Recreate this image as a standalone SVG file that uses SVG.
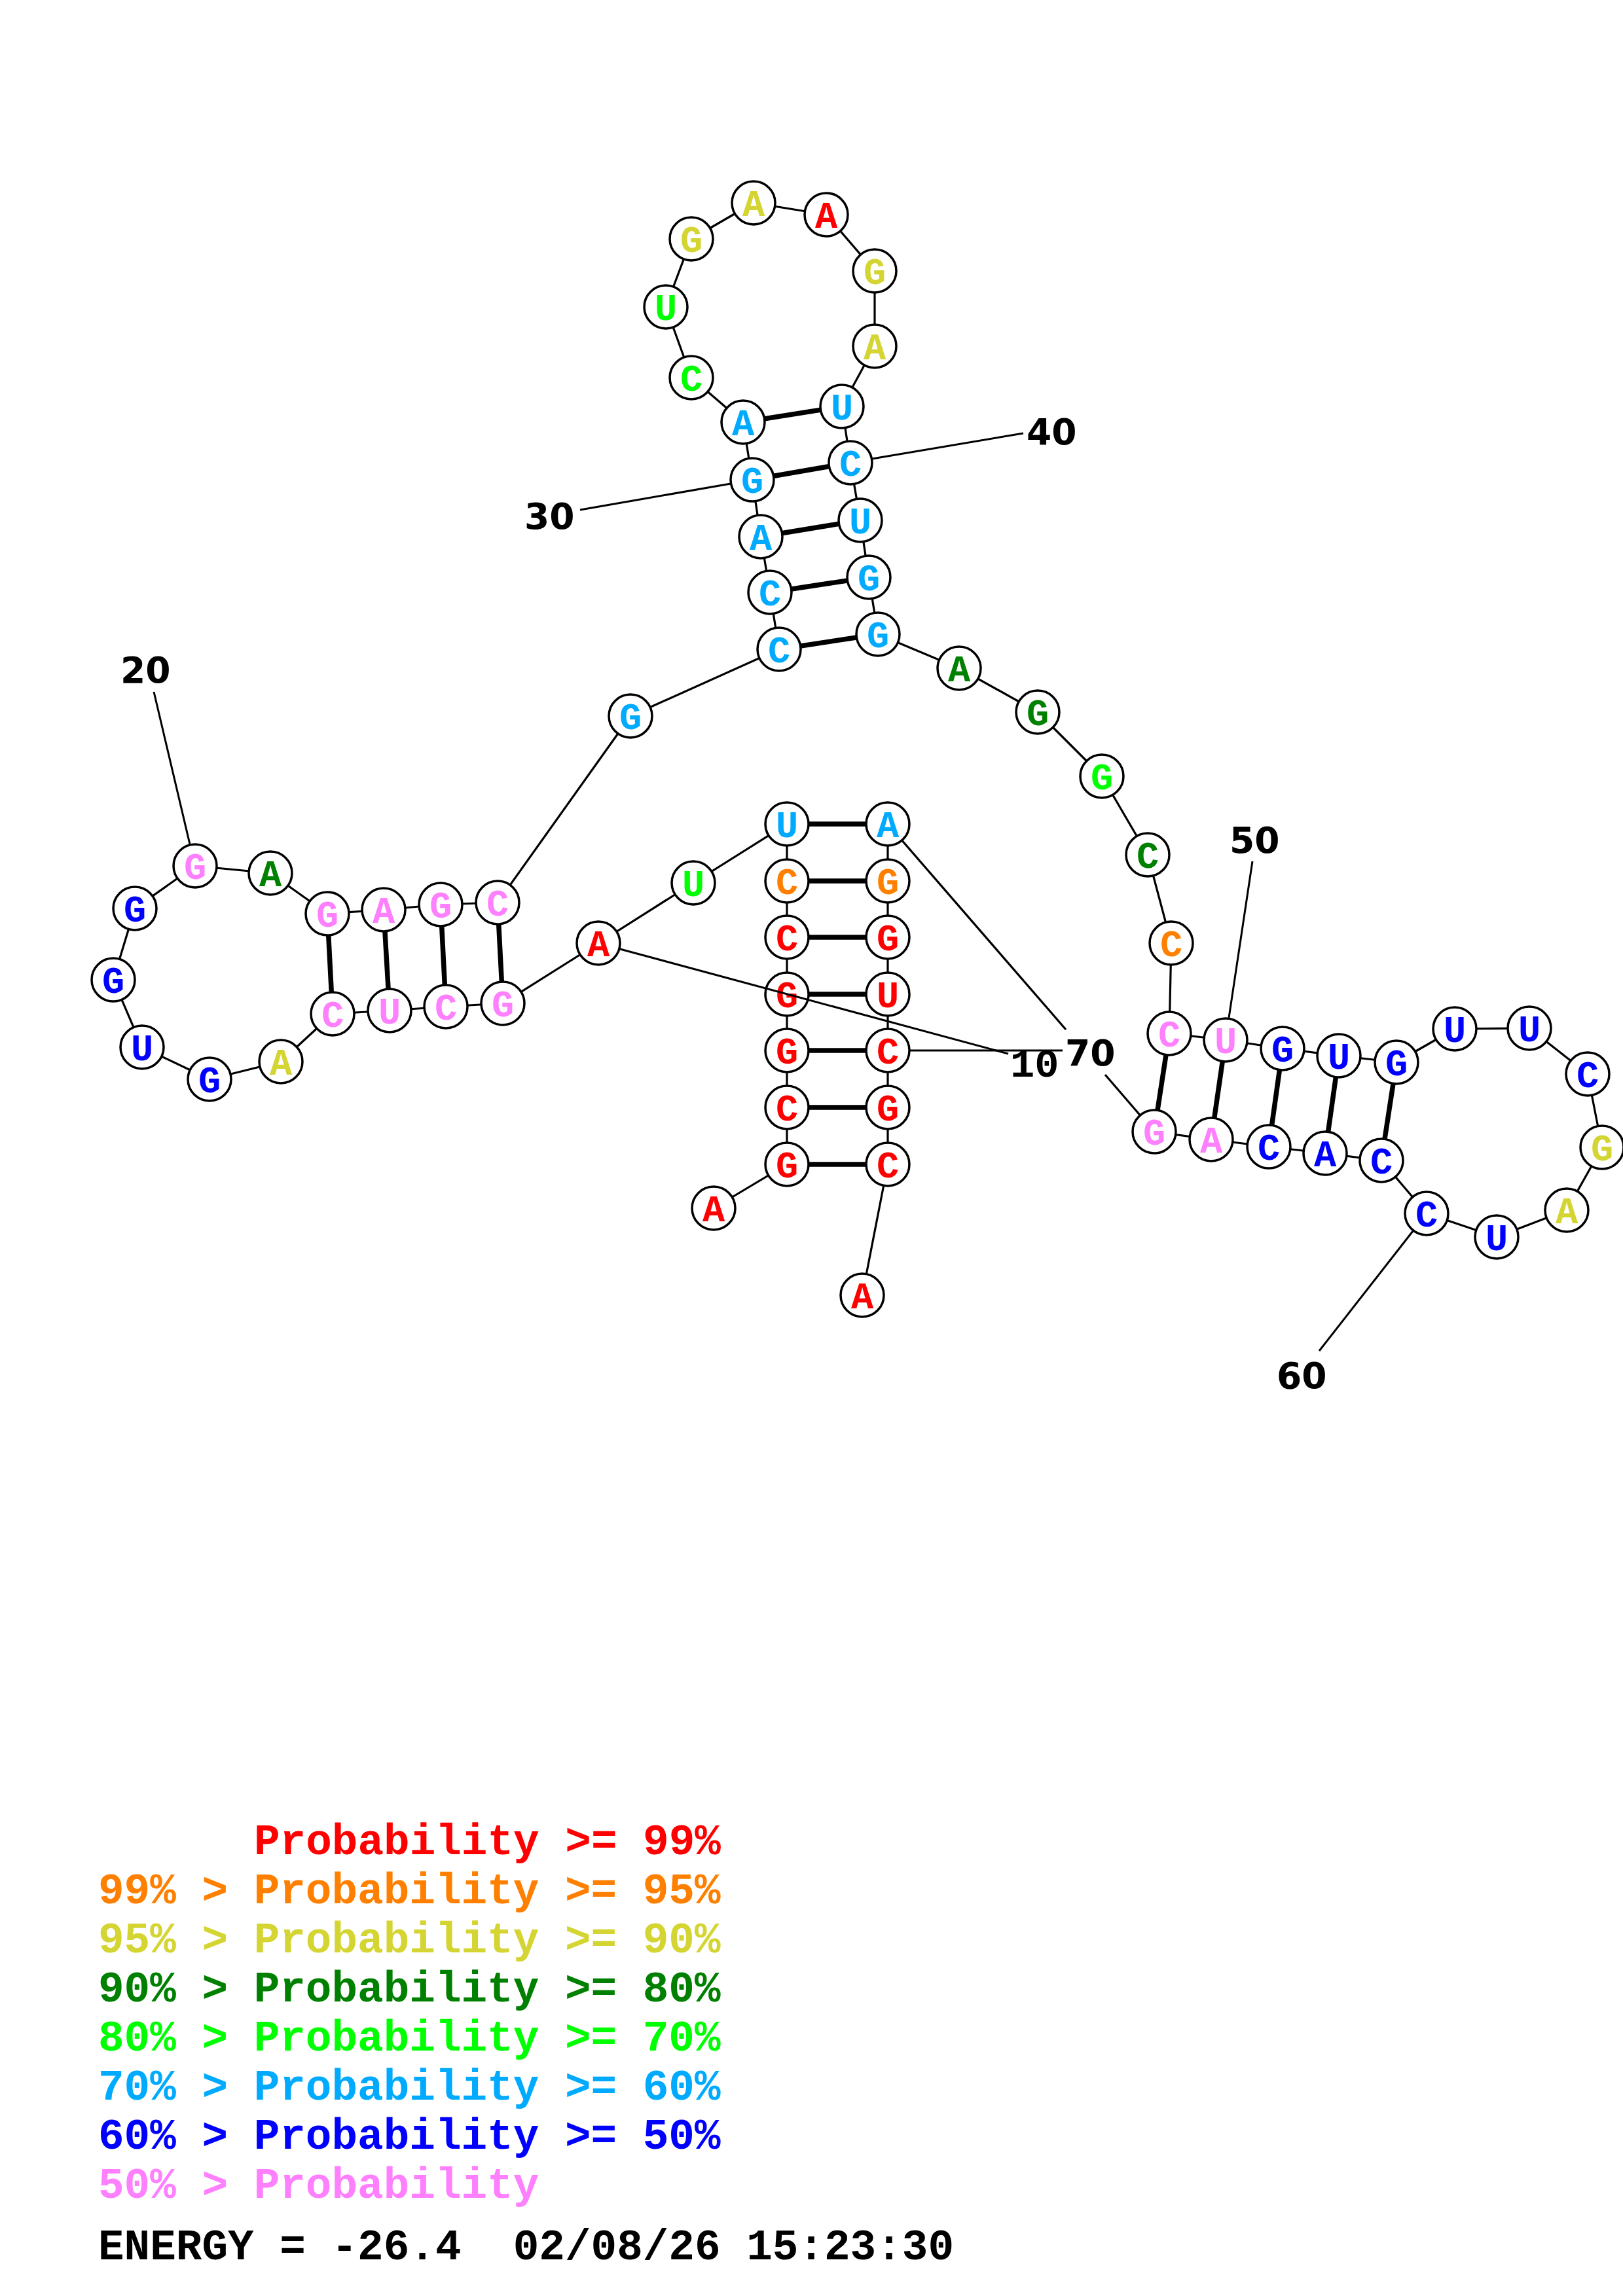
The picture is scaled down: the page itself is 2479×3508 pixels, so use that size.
<svg xmlns="http://www.w3.org/2000/svg" width="2479" height="3508" viewBox="0 0 2479 3508">
<style>
.bb{fill:none;stroke:#000;stroke-width:3.2;stroke-linejoin:round}
.bp{stroke:#000;stroke-width:7.5}
.ll{stroke:#000;stroke-width:3}
.nc{fill:#fff;stroke:#000;stroke-width:3.5}
.nt{font-family:"Liberation Mono","Courier New",monospace;font-weight:bold;font-size:57px;text-anchor:middle}
.lab{font-family:"DejaVu Sans",sans-serif;font-weight:bold;font-size:55px;fill:#000}
.leg{font-family:"Liberation Mono","Courier New",monospace;font-weight:bold;font-size:66px}
.R{fill:#FF0000}.O{fill:#FF8000}.Y{fill:#D4D432}.DG{fill:#008000}.G{fill:#00FF00}.LB{fill:#00AAFF}.B{fill:#0000FF}.P{fill:#FF80FF}.K{fill:#000}
</style>
<rect width="2479" height="3508" fill="#fff"/>
<g id="connectors">
<polyline class="bb" points="1090,1846 1202,1779 1202,1692 1202,1605 1202,1519 1202,1432 1202,1346 1202,1259 1059,1349 914,1441 768,1533 681,1538 595,1544 508,1549 429,1622 320,1649 217,1600 173,1497 206,1388 298,1323 413,1334 500,1396 586,1390 673,1382 760,1379 963,1094 1190,992 1176,905 1162,820 1149,733 1135,645 1056,577 1017,469 1056,365 1151,310 1262,328 1336,414 1336,529 1286,621 1299,707 1314,795 1327,882 1341,969 1465,1021 1585,1088 1683,1186 1753,1306 1789,1441 1786,1579 1872,1589 1959,1602 2045,1613 2133,1623 2222,1572 2336,1571 2425,1641 2447,1753 2393,1849 2286,1890 2179,1854 2110,1773 2024,1762 1938,1752 1850,1741 1763,1729"/>
<line class="bb" x1="1763" y1="1729" x2="1688" y2="1642"/>
<line class="bb" x1="1628" y1="1573" x2="1356" y2="1259"/>
<polyline class="bb" points="1356,1259 1356,1346 1356,1432 1356,1519 1356,1605 1356,1692 1356,1779 1317,1979"/>
<line class="bp" x1="1202" y1="1779" x2="1356" y2="1779"/>
<line class="bp" x1="1202" y1="1692" x2="1356" y2="1692"/>
<line class="bp" x1="1202" y1="1605" x2="1356" y2="1605"/>
<line class="bp" x1="1202" y1="1519" x2="1356" y2="1519"/>
<line class="bp" x1="1202" y1="1432" x2="1356" y2="1432"/>
<line class="bp" x1="1202" y1="1346" x2="1356" y2="1346"/>
<line class="bp" x1="1202" y1="1259" x2="1356" y2="1259"/>
<line class="bp" x1="500" y1="1396" x2="508" y2="1549"/>
<line class="bp" x1="586" y1="1390" x2="595" y2="1544"/>
<line class="bp" x1="673" y1="1382" x2="681" y2="1538"/>
<line class="bp" x1="760" y1="1379" x2="768" y2="1533"/>
<line class="bp" x1="1190" y1="992" x2="1341" y2="969"/>
<line class="bp" x1="1176" y1="905" x2="1327" y2="882"/>
<line class="bp" x1="1162" y1="820" x2="1314" y2="795"/>
<line class="bp" x1="1149" y1="733" x2="1299" y2="707"/>
<line class="bp" x1="1135" y1="645" x2="1286" y2="621"/>
<line class="bp" x1="1786" y1="1579" x2="1763" y2="1729"/>
<line class="bp" x1="1872" y1="1589" x2="1850" y2="1741"/>
<line class="bp" x1="1959" y1="1602" x2="1938" y2="1752"/>
<line class="bp" x1="2045" y1="1613" x2="2024" y2="1762"/>
<line class="bp" x1="2133" y1="1623" x2="2110" y2="1773"/>
</g>
<g id="n1"><circle class="nc" cx="1090" cy="1846" r="33"/><text class="nt R" x="1090" y="1866">A</text></g>
<g id="n2"><circle class="nc" cx="1202" cy="1779" r="33"/><text class="nt R" x="1202" y="1799">G</text></g>
<g id="n3"><circle class="nc" cx="1202" cy="1692" r="33"/><text class="nt R" x="1202" y="1712">C</text></g>
<g id="n4"><circle class="nc" cx="1202" cy="1605" r="33"/><text class="nt R" x="1202" y="1625">G</text></g>
<g id="n5"><circle class="nc" cx="1202" cy="1519" r="33"/><text class="nt R" x="1202" y="1539">G</text></g>
<g id="n6"><circle class="nc" cx="1202" cy="1432" r="33"/><text class="nt R" x="1202" y="1452">C</text></g>
<g id="n7"><circle class="nc" cx="1202" cy="1346" r="33"/><text class="nt O" x="1202" y="1366">C</text></g>
<g id="n8"><circle class="nc" cx="1202" cy="1259" r="33"/><text class="nt LB" x="1202" y="1279">U</text></g>
<g id="n9"><circle class="nc" cx="1059" cy="1349" r="33"/><text class="nt G" x="1059" y="1369">U</text></g>
<g id="n10"><circle class="nc" cx="914" cy="1441" r="33"/><text class="nt R" x="914" y="1461">A</text></g>
<g id="n11"><circle class="nc" cx="768" cy="1533" r="33"/><text class="nt P" x="768" y="1553">G</text></g>
<g id="n12"><circle class="nc" cx="681" cy="1538" r="33"/><text class="nt P" x="681" y="1558">C</text></g>
<g id="n13"><circle class="nc" cx="595" cy="1544" r="33"/><text class="nt P" x="595" y="1564">U</text></g>
<g id="n14"><circle class="nc" cx="508" cy="1549" r="33"/><text class="nt P" x="508" y="1569">C</text></g>
<g id="n15"><circle class="nc" cx="429" cy="1622" r="33"/><text class="nt Y" x="429" y="1642">A</text></g>
<g id="n16"><circle class="nc" cx="320" cy="1649" r="33"/><text class="nt B" x="320" y="1669">G</text></g>
<g id="n17"><circle class="nc" cx="217" cy="1600" r="33"/><text class="nt B" x="217" y="1620">U</text></g>
<g id="n18"><circle class="nc" cx="173" cy="1497" r="33"/><text class="nt B" x="173" y="1517">G</text></g>
<g id="n19"><circle class="nc" cx="206" cy="1388" r="33"/><text class="nt B" x="206" y="1408">G</text></g>
<g id="n20"><circle class="nc" cx="298" cy="1323" r="33"/><text class="nt P" x="298" y="1343">G</text></g>
<g id="n21"><circle class="nc" cx="413" cy="1334" r="33"/><text class="nt DG" x="413" y="1354">A</text></g>
<g id="n22"><circle class="nc" cx="500" cy="1396" r="33"/><text class="nt P" x="500" y="1416">G</text></g>
<g id="n23"><circle class="nc" cx="586" cy="1390" r="33"/><text class="nt P" x="586" y="1410">A</text></g>
<g id="n24"><circle class="nc" cx="673" cy="1382" r="33"/><text class="nt P" x="673" y="1402">G</text></g>
<g id="n25"><circle class="nc" cx="760" cy="1379" r="33"/><text class="nt P" x="760" y="1399">C</text></g>
<g id="n26"><circle class="nc" cx="963" cy="1094" r="33"/><text class="nt LB" x="963" y="1114">G</text></g>
<g id="n27"><circle class="nc" cx="1190" cy="992" r="33"/><text class="nt LB" x="1190" y="1012">C</text></g>
<g id="n28"><circle class="nc" cx="1176" cy="905" r="33"/><text class="nt LB" x="1176" y="925">C</text></g>
<g id="n29"><circle class="nc" cx="1162" cy="820" r="33"/><text class="nt LB" x="1162" y="840">A</text></g>
<g id="n30"><circle class="nc" cx="1149" cy="733" r="33"/><text class="nt LB" x="1149" y="753">G</text></g>
<g id="n31"><circle class="nc" cx="1135" cy="645" r="33"/><text class="nt LB" x="1135" y="665">A</text></g>
<g id="n32"><circle class="nc" cx="1056" cy="577" r="33"/><text class="nt G" x="1056" y="597">C</text></g>
<g id="n33"><circle class="nc" cx="1017" cy="469" r="33"/><text class="nt G" x="1017" y="489">U</text></g>
<g id="n34"><circle class="nc" cx="1056" cy="365" r="33"/><text class="nt Y" x="1056" y="385">G</text></g>
<g id="n35"><circle class="nc" cx="1151" cy="310" r="33"/><text class="nt Y" x="1151" y="330">A</text></g>
<g id="n36"><circle class="nc" cx="1262" cy="328" r="33"/><text class="nt R" x="1262" y="348">A</text></g>
<g id="n37"><circle class="nc" cx="1336" cy="414" r="33"/><text class="nt Y" x="1336" y="434">G</text></g>
<g id="n38"><circle class="nc" cx="1336" cy="529" r="33"/><text class="nt Y" x="1336" y="549">A</text></g>
<g id="n39"><circle class="nc" cx="1286" cy="621" r="33"/><text class="nt LB" x="1286" y="641">U</text></g>
<g id="n40"><circle class="nc" cx="1299" cy="707" r="33"/><text class="nt LB" x="1299" y="727">C</text></g>
<g id="n41"><circle class="nc" cx="1314" cy="795" r="33"/><text class="nt LB" x="1314" y="815">U</text></g>
<g id="n42"><circle class="nc" cx="1327" cy="882" r="33"/><text class="nt LB" x="1327" y="902">G</text></g>
<g id="n43"><circle class="nc" cx="1341" cy="969" r="33"/><text class="nt LB" x="1341" y="989">G</text></g>
<g id="n44"><circle class="nc" cx="1465" cy="1021" r="33"/><text class="nt DG" x="1465" y="1041">A</text></g>
<g id="n45"><circle class="nc" cx="1585" cy="1088" r="33"/><text class="nt DG" x="1585" y="1108">G</text></g>
<g id="n46"><circle class="nc" cx="1683" cy="1186" r="33"/><text class="nt G" x="1683" y="1206">G</text></g>
<g id="n47"><circle class="nc" cx="1753" cy="1306" r="33"/><text class="nt DG" x="1753" y="1326">C</text></g>
<g id="n48"><circle class="nc" cx="1789" cy="1441" r="33"/><text class="nt O" x="1789" y="1461">C</text></g>
<g id="n49"><circle class="nc" cx="1786" cy="1579" r="33"/><text class="nt P" x="1786" y="1599">C</text></g>
<g id="n50"><circle class="nc" cx="1872" cy="1589" r="33"/><text class="nt P" x="1872" y="1609">U</text></g>
<g id="n51"><circle class="nc" cx="1959" cy="1602" r="33"/><text class="nt B" x="1959" y="1622">G</text></g>
<g id="n52"><circle class="nc" cx="2045" cy="1613" r="33"/><text class="nt B" x="2045" y="1633">U</text></g>
<g id="n53"><circle class="nc" cx="2133" cy="1623" r="33"/><text class="nt B" x="2133" y="1643">G</text></g>
<g id="n54"><circle class="nc" cx="2222" cy="1572" r="33"/><text class="nt B" x="2222" y="1592">U</text></g>
<g id="n55"><circle class="nc" cx="2336" cy="1571" r="33"/><text class="nt B" x="2336" y="1591">U</text></g>
<g id="n56"><circle class="nc" cx="2425" cy="1641" r="33"/><text class="nt B" x="2425" y="1661">C</text></g>
<g id="n57"><circle class="nc" cx="2447" cy="1753" r="33"/><text class="nt Y" x="2447" y="1773">G</text></g>
<g id="n58"><circle class="nc" cx="2393" cy="1849" r="33"/><text class="nt Y" x="2393" y="1869">A</text></g>
<g id="n59"><circle class="nc" cx="2286" cy="1890" r="33"/><text class="nt B" x="2286" y="1910">U</text></g>
<g id="n60"><circle class="nc" cx="2179" cy="1854" r="33"/><text class="nt B" x="2179" y="1874">C</text></g>
<g id="n61"><circle class="nc" cx="2110" cy="1773" r="33"/><text class="nt B" x="2110" y="1793">C</text></g>
<g id="n62"><circle class="nc" cx="2024" cy="1762" r="33"/><text class="nt B" x="2024" y="1782">A</text></g>
<g id="n63"><circle class="nc" cx="1938" cy="1752" r="33"/><text class="nt B" x="1938" y="1772">C</text></g>
<g id="n64"><circle class="nc" cx="1850" cy="1741" r="33"/><text class="nt P" x="1850" y="1761">A</text></g>
<g id="n65"><circle class="nc" cx="1763" cy="1729" r="33"/><text class="nt P" x="1763" y="1749">G</text></g>
<g id="n66"><circle class="nc" cx="1356" cy="1259" r="33"/><text class="nt LB" x="1356" y="1279">A</text></g>
<g id="n67"><circle class="nc" cx="1356" cy="1346" r="33"/><text class="nt O" x="1356" y="1366">G</text></g>
<g id="n68"><circle class="nc" cx="1356" cy="1432" r="33"/><text class="nt R" x="1356" y="1452">G</text></g>
<g id="n69"><circle class="nc" cx="1356" cy="1519" r="33"/><text class="nt R" x="1356" y="1539">U</text></g>
<g id="n70"><circle class="nc" cx="1356" cy="1605" r="33"/><text class="nt R" x="1356" y="1625">C</text></g>
<g id="n71"><circle class="nc" cx="1356" cy="1692" r="33"/><text class="nt R" x="1356" y="1712">G</text></g>
<g id="n72"><circle class="nc" cx="1356" cy="1779" r="33"/><text class="nt R" x="1356" y="1799">C</text></g>
<g id="n73"><circle class="nc" cx="1317" cy="1979" r="33"/><text class="nt R" x="1317" y="1999">A</text></g>
<g id="labels">
<line class="ll" x1="947" y1="1450" x2="1540" y2="1610"/>
<line class="ll" x1="290" y1="1290" x2="235" y2="1057"/>
<line class="ll" x1="1116" y1="739" x2="886" y2="779"/>
<line class="ll" x1="1332" y1="701" x2="1563" y2="662"/>
<line class="ll" x1="1877" y1="1555" x2="1913" y2="1316"/>
<line class="ll" x1="2158" y1="1881" x2="2015" y2="2064"/>
<line class="ll" x1="1389" y1="1605" x2="1623" y2="1605"/>
<text class="leg K" style="font-size:62px" x="1543" y="1645">10</text>
<text class="lab" x="184" y="1043">20</text>
<text class="lab" x="801" y="808">30</text>
<text class="lab" x="1568" y="679">40</text>
<text class="lab" x="1878" y="1303">50</text>
<text class="lab" x="1950" y="2121">60</text>
<text class="lab" x="1627" y="1628">70</text>
</g>
<g id="legend">
<text class="leg R" x="388" y="2833">Probability &gt;= 99%</text>
<text class="leg O" x="150" y="2908">99% &gt; Probability &gt;= 95%</text>
<text class="leg Y" x="150" y="2983">95% &gt; Probability &gt;= 90%</text>
<text class="leg DG" x="150" y="3058">90% &gt; Probability &gt;= 80%</text>
<text class="leg G" x="150" y="3133">80% &gt; Probability &gt;= 70%</text>
<text class="leg LB" x="150" y="3208">70% &gt; Probability &gt;= 60%</text>
<text class="leg B" x="150" y="3283">60% &gt; Probability &gt;= 50%</text>
<text class="leg P" x="150" y="3358">50% &gt; Probability</text>
<text class="leg K" x="150" y="3452" xml:space="preserve">ENERGY = -26.4  02/08/26 15:23:30</text>
</g>
</svg>
